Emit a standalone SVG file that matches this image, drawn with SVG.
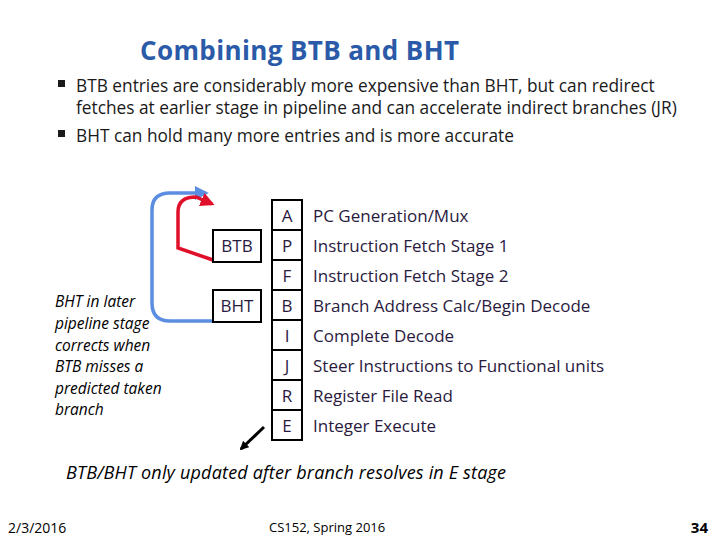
<svg xmlns="http://www.w3.org/2000/svg" width="720" height="540" viewBox="0 0 720 540">
<style>
text{font-family:"Open Sans","Noto Sans",sans-serif;}
.t{font-size:17.3px;fill:#1a1a1a}
.st{font-size:17px;fill:#2a1a40}
.stage{fill:#fff;stroke:#000;stroke-width:2}
.it{font-size:15.5px;font-style:italic;fill:#000}
</style>
<defs>
<marker id="ar" viewBox="0 0 10 10" refX="8" refY="5" markerWidth="4" markerHeight="4" orient="auto"><path d="M0,0L10,5L0,10z" fill="context-stroke"/></marker>
<marker id="ar2" viewBox="0 0 10 10" refX="8" refY="5" markerWidth="3" markerHeight="3" orient="auto"><path d="M0,0L10,5L0,10z" fill="#000"/></marker>
</defs>
<rect width="720" height="540" fill="#fff"/>
<text x="140" y="60" font-size="26" font-weight="bold" fill="#2a5aa8" textLength="319">Combining BTB and BHT</text>
<rect x="58" y="80" width="7" height="7" fill="#1a1a1a"/>
<text class="t" x="76" y="92">BTB entries are considerably more expensive than BHT, but can redirect</text>
<text class="t" x="76" y="114">fetches at earlier stage in pipeline and can accelerate indirect branches (JR)</text>
<rect x="58" y="130" width="7" height="7" fill="#1a1a1a"/>
<text class="t" x="76" y="142">BHT can hold many more entries and is more accurate</text>
<g id="connectors" fill="none">
<path d="M213,321 L170,321 Q152,321 152,303 L152,210 Q152,193 170,193 L206,193" stroke="#5b8ee0" stroke-width="3.5" marker-end="url(#ar)"/>
<path d="M213,260 L178,248 L178,212 Q178,197 196,197 L212,204" stroke="#e0102a" stroke-width="3.5" marker-end="url(#ar)"/>
<path d="M264,427 L241,449" stroke="#000" stroke-width="3" marker-end="url(#ar2)"/>
</g>
<g id="btb"><rect class="stage" x="213" y="230" width="48" height="32"/><text class="st" x="237" y="252" text-anchor="middle" fill="#000">BTB</text></g>
<g id="bht"><rect class="stage" x="213" y="290" width="48" height="32"/><text class="st" x="237" y="312" text-anchor="middle">BHT</text></g>
<g id="pipeline">
<rect class="stage" x="272" y="200" width="30" height="30"/><text class="st" x="287" y="222" text-anchor="middle">A</text>
<rect class="stage" x="272" y="230" width="30" height="30"/><text class="st" x="287" y="252" text-anchor="middle">P</text>
<rect class="stage" x="272" y="260" width="30" height="30"/><text class="st" x="287" y="282" text-anchor="middle">F</text>
<rect class="stage" x="272" y="290" width="30" height="30"/><text class="st" x="287" y="312" text-anchor="middle">B</text>
<rect class="stage" x="272" y="320" width="30" height="30"/><text class="st" x="287" y="342" text-anchor="middle">I</text>
<rect class="stage" x="272" y="350" width="30" height="30"/><text class="st" x="287" y="372" text-anchor="middle">J</text>
<rect class="stage" x="272" y="380" width="30" height="30"/><text class="st" x="287" y="402" text-anchor="middle">R</text>
<rect class="stage" x="272" y="410" width="30" height="30"/><text class="st" x="287" y="432" text-anchor="middle">E</text>
</g>
<g id="labels">
<text class="st" x="313" y="222">PC Generation/Mux</text>
<text class="st" x="313" y="252">Instruction Fetch Stage 1</text>
<text class="st" x="313" y="282">Instruction Fetch Stage 2</text>
<text class="st" x="313" y="312">Branch Address Calc/Begin Decode</text>
<text class="st" x="313" y="342">Complete Decode</text>
<text class="st" x="313" y="372">Steer Instructions to Functional units</text>
<text class="st" x="313" y="402">Register File Read</text>
<text class="st" x="313" y="432">Integer Execute</text>
</g>
<g id="note">
<text class="it" x="55" y="307">BHT in later</text>
<text class="it" x="55" y="329">pipeline stage</text>
<text class="it" x="55" y="351">corrects when</text>
<text class="it" x="55" y="372">BTB misses a</text>
<text class="it" x="55" y="394">predicted taken</text>
<text class="it" x="55" y="415">branch</text>
</g>
<text x="66" y="479" font-size="18" font-style="italic" fill="#000" textLength="440">BTB/BHT only updated after branch resolves in E stage</text>
<text x="8" y="533" font-size="14" fill="#000">2/3/2016</text>
<text x="269" y="532" font-size="13" fill="#000">CS152, Spring 2016</text>
<text x="708" y="533" font-size="15" font-weight="bold" text-anchor="end" fill="#000">34</text>
</svg>
